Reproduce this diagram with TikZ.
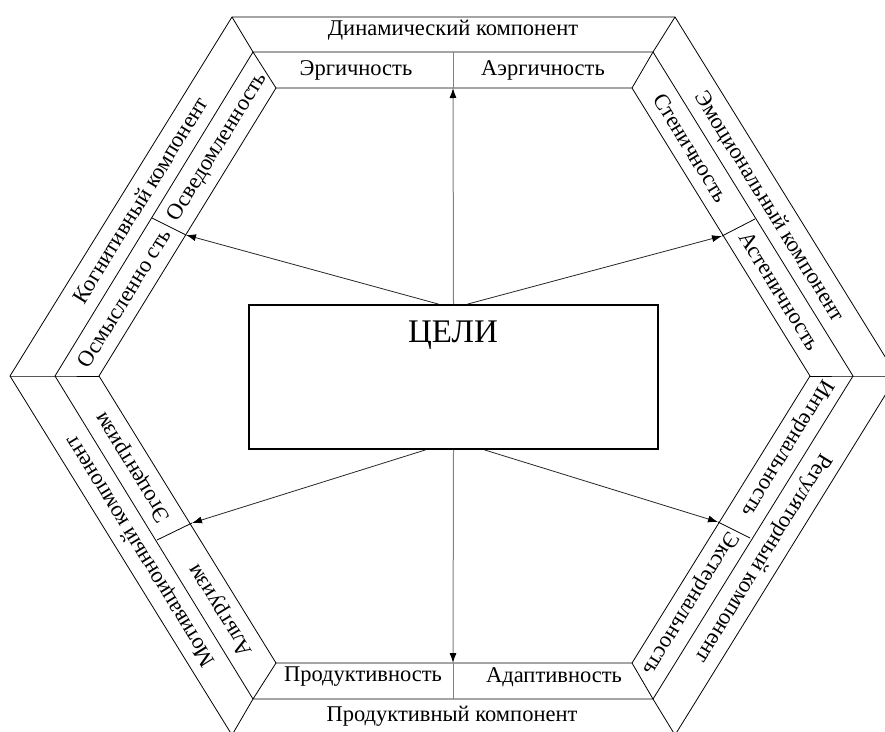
\documentclass[tikz,border=0pt]{standalone}
\usepackage{fontspec}
\setmainfont{Liberation Serif}
\usetikzlibrary{arrows.meta,calc}
\begin{document}
\begin{tikzpicture}[x=1pt,y=-1pt,
  hexline/.style={line width=0.8pt, black},
  grayline/.style={line width=1pt, black!50},
  arrowline/.style={line width=0.8pt, black!85, -{Latex[length=10pt,width=7pt,color=black]}},
  grayarrow/.style={line width=1pt, black!50, -{Latex[length=10pt,width=7pt,color=black]}},
  lbl/.style={font=\fontsize{22.5}{26}\selectfont, inner sep=0pt},
  goalbox/.style={draw, line width=1.8pt, minimum width=409pt, minimum height=144pt, inner sep=0pt},
  goaltxt/.style={font=\fontsize{33}{38}\selectfont, inner sep=0pt}
]
\useasboundingbox (0,0) rectangle (885,731);
% hexagon vertices
\coordinate (oTL) at (232,17);  \coordinate (oTR) at (675,17);  \coordinate (oR) at (897,376);
\coordinate (oBR) at (675,735); \coordinate (oBL) at (232,735); \coordinate (oL) at (10,376);
\coordinate (mTL) at (253,52);  \coordinate (mTR) at (653,52);  \coordinate (mR) at (853,376);
\coordinate (mBR) at (653,699); \coordinate (mBL) at (253,699); \coordinate (mL) at (55,376);
\coordinate (iTL) at (276,88);  \coordinate (iTR) at (632,88);  \coordinate (iR) at (810,376);
\coordinate (iBR) at (632,663); \coordinate (iBL) at (276,663); \coordinate (iL) at (99,376);
% divider points
\coordinate (mT) at (453,52);   \coordinate (iT) at (453,88);
\coordinate (mB) at (453,699);  \coordinate (iB) at (453,663);
\coordinate (mUL) at (152,218); \coordinate (iUL) at (186,235);
\coordinate (mUR) at (755,219); \coordinate (iUR) at (722,236);
\coordinate (mLL) at (157,540); \coordinate (iLL) at (192,523);
\coordinate (mLR) at (750,538); \coordinate (iLR) at (718,522);
\begin{scope}
\clip (0,0) rectangle (885,731);
\draw[hexline] (oTL) -- (oTR) -- (oR) -- (oBR) -- (oBL) -- (oL) -- cycle;
\draw[hexline] (mTL) -- (mTR) -- (mR) -- (mBR) -- (mBL) -- (mL) -- cycle;
\draw[hexline] (iTL) -- (iTR) -- (iR) -- (iBR) -- (iBL) -- (iL) -- cycle;
\draw[hexline] (oTL) -- (mTL) -- (iTL);
\draw[hexline] (oTR) -- (mTR) -- (iTR);
\draw[hexline] (oR) -- (mR) -- (iR);
\draw[hexline] (oBR) -- (mBR) -- (iBR);
\draw[hexline] (oBL) -- (mBL) -- (iBL);
\draw[hexline] (oL) -- (mL) -- (iL);
\end{scope}
\draw[grayline] (mT) -- (iT);
\draw[grayline] (iB) -- (mB);
\draw[hexline] (mUL) -- (iUL);
\draw[hexline] (mUR) -- (iUR);
\draw[hexline] (mLL) -- (iLL);
\draw[hexline] (mLR) -- (iLR);
% central box
\node[goalbox] (goal) at (453.5,377) {};
\node[goaltxt] (goaltext) at (453,335) {ЦЕЛИ};
% arrows
\draw[grayarrow] (goal.north) -- (iT);
\draw[grayarrow] (goal.south) -- (iB);
\draw[arrowline] ($(goal.north)+(-15,0)$) -- (iUL);
\draw[arrowline] ($(goal.north)+(14,0)$) -- (iUR);
\draw[arrowline] ($(goal.south)+(-28,0)$) -- (iLL);
\draw[arrowline] ($(goal.south)+(31,0)$) -- (iLR);
% labels
\node[lbl] (dyn) at (453,30) {Динамический компонент};
\node[lbl] (erg) at (356,70) {Эргичность};
\node[lbl] (aerg) at (543,70) {Аэргичность};
\node[lbl] (prodc) at (452,716) {Продуктивный компонент};
\node[lbl] (prod) at (363,677) {Продуктивность};
\node[lbl] (adapt) at (554,677) {Адаптивность};
\node[lbl, rotate=58.4] (kog) at (140,200) {Когнитивный компонент};
\node[lbl, rotate=58.4] (osved) at (218,147) {Осведомленность};
\node[lbl, rotate=58.4] (osmysl) at (124,298) {Осмысленно сть};
\node[lbl, rotate=-58.4] (emo) at (769,207) {Эмоциональный компонент};
\node[lbl, rotate=-58.4] (sten) at (691,148) {Стеничность};
\node[lbl, rotate=-58.4] (asten) at (780,291) {Астеничность};
\node[lbl, rotate=121.6] (motiv) at (141,551) {Мотивационный компонент};
\node[lbl, rotate=121.6] (ego) at (133,467) {Эгоцентризм};
\node[lbl, rotate=121.6] (altr) at (221,610) {Альтруизм};
\node[lbl, rotate=238.4] (reg) at (763,558) {Регуляторный компонент};
\node[lbl, rotate=238.4] (intern) at (787,448) {Интернальность};
\node[lbl, rotate=238.4] (extern) at (690,603) {Экстернальность};
\end{tikzpicture}
\end{document}
